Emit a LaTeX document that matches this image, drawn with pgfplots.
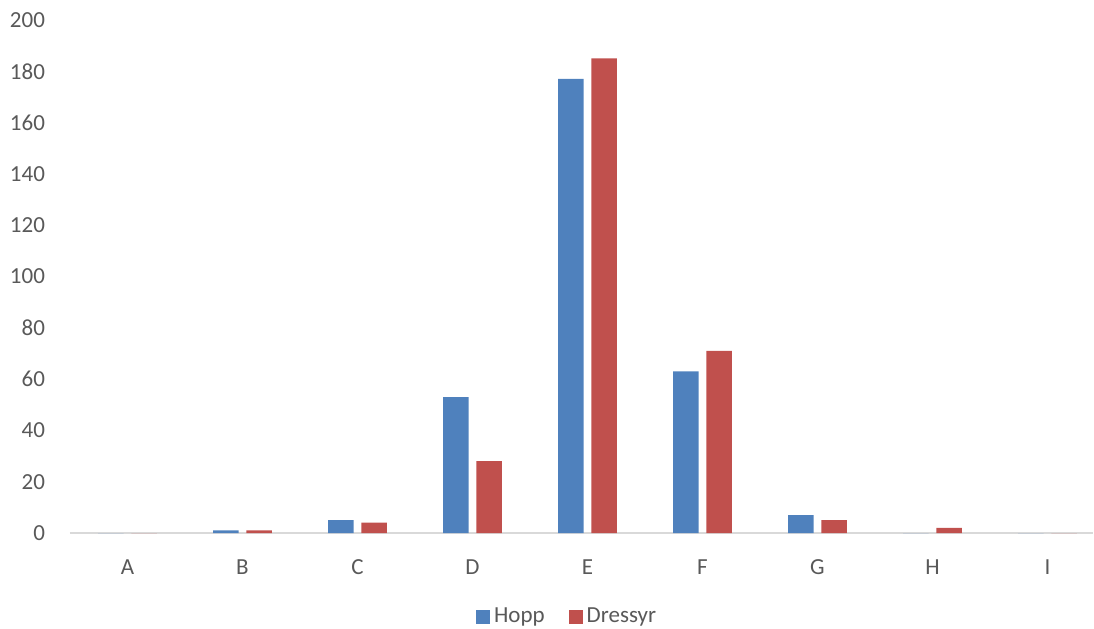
\documentclass[border=0pt]{standalone}
\usepackage{pgfplots}
\pgfplotsset{compat=1.18}
\usepackage{fontspec}
\setmainfont{Carlito}
\definecolor{hopp}{HTML}{4F81BD}
\definecolor{dress}{HTML}{C0504D}
\definecolor{txt}{HTML}{595959}
\definecolor{axl}{HTML}{D9D9D9}
\begin{document}
\begin{tikzpicture}
\begin{axis}[
  at={(0,0)}, anchor=south west,
  scale only axis,
  width=511.75pt, height=256.5pt,
  xmin=-0.5, xmax=8.4,
  ymin=0, ymax=200,
  ytick={0,20,...,200},
  xtick={0,...,8},
  xticklabels={A,B,C,D,E,F,G,H,I},
  axis x line*=bottom,
  axis y line*=left,
  y axis line style={draw=none},
  x axis line style={draw=axl, line width=0.8pt, -},
  major tick length=0pt,
  tick label style={font=\fontsize{11.5}{13}\selectfont, text=txt},
  /pgf/number format/assume math mode=true,
  yticklabel style={anchor=east, xshift=-9pt},
  xticklabel style={yshift=-10pt},
  bar width=12.8pt,
  legend columns=2,
  legend style={draw=none, at={(0.4866,-0.1637)}, anchor=center,
    font=\fontsize{11.5}{13}\selectfont, text=txt,
    /tikz/every even column/.append style={column sep=10pt},
    inner sep=0pt},
  legend image code/.code={\fill[#1] (-3pt,-3.5pt) rectangle (4pt,3.5pt);},
  clip=false,
]
\addplot[ybar, fill=hopp, draw=none, bar shift=-8.3pt] coordinates {
  (0,0) (1,1) (2,5) (3,53) (4,177) (5,63) (6,7) (7,0) (8,0)};
\addplot[ybar, fill=dress, draw=none, bar shift=8.3pt] coordinates {
  (0,0) (1,1) (2,4) (3,28) (4,185) (5,71) (6,5) (7,2) (8,0)};
\legend{Hopp,Dressyr}
\end{axis}
\pgfresetboundingbox
\path[use as bounding box] (-35pt,-47.5pt) rectangle (512pt,266.5pt);
\end{tikzpicture}
\end{document}
